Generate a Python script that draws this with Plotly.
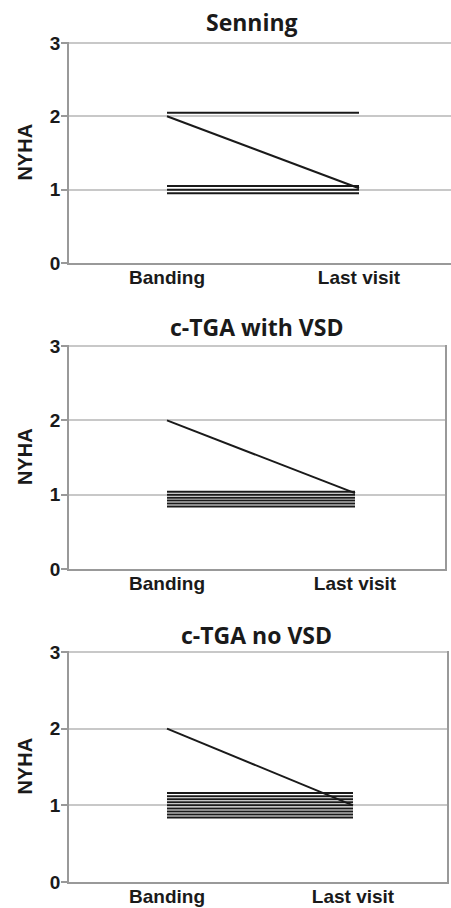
import plotly.graph_objects as go

# ---- data ----
categories = ["Banding", "Last visit"]
panel_titles = ["Senning", "c-TGA with VSD", "c-TGA no VSD"]

senning_banding = [2.05, 2.00, 1.05, 1.00, 0.95]
senning_last = [2.05, 1.02, 1.05, 1.00, 0.95]

vsd_banding = [2.00, 1.04, 1.00, 0.96, 0.92, 0.88, 0.84]
vsd_last = [1.02, 1.04, 1.00, 0.96, 0.92, 0.88, 0.84]

novsd_banding = [2.00, 1.16, 1.12, 1.08, 1.04, 1.00, 0.96, 0.92, 0.88, 0.84]
novsd_last = [1.00, 1.16, 1.12, 1.08, 1.04, 1.00, 0.96, 0.92, 0.88, 0.84]

y_ticks = [0, 1, 2, 3]

panels = [
    (senning_banding, senning_last),
    (vsd_banding, vsd_last),
    (novsd_banding, novsd_last),
]

# layout geometry (pixels in a 451x908 page)
W, H = 451, 908
left_px = 69
right_px = [451, 445, 447]
cat_px = [(167, 359), (167, 355), (167, 353)]
plot_top = [41.5, 344.5, 650.5]
plot_bot = [263, 569, 882]
title_y = [22, 327, 635]
mirror = [False, True, True]

fig = go.Figure()
FONT = "Liberation Sans, Arial, sans-serif"
tick_font = dict(family=FONT, size=19, color="#1a1a1a", weight="bold")

for i, (b, l) in enumerate(panels):
    ax = "" if i == 0 else str(i + 1)
    for yb, yl in zip(b, l):
        fig.add_trace(go.Scatter(
            x=[0, 1], y=[yb, yl], mode="lines",
            line=dict(color="#1a1a1a", width=2),
            xaxis="x" + ax, yaxis="y" + ax, showlegend=False, hoverinfo="skip",
        ))
    c0, c1 = cat_px[i]
    per = c1 - c0
    r0 = -(c0 - left_px) / per
    r1 = r0 + (right_px[i] - left_px) / per
    fig.layout["xaxis" + ax] = dict(
        domain=[left_px / W, right_px[i] / W],
        range=[r0, r1],
        anchor="y" + ax,
        tickvals=[0, 1], ticktext=categories,
        tickfont=tick_font,
        showgrid=False, zeroline=False,
        showline=True, linecolor="#999999", linewidth=1.5, ticks="",
        ticklabelstandoff=-4,
        automargin=False,
    )
    fig.layout["yaxis" + ax] = dict(
        domain=[1 - plot_bot[i] / H, 1 - plot_top[i] / H],
        range=[0, 3.02],
        anchor="x" + ax,
        tickvals=y_ticks,
        tickfont=tick_font,
        showgrid=True, gridcolor="#c8c8c8", gridwidth=1.5,
        zeroline=False,
        showline=True, linecolor="#999999", linewidth=1.5, mirror=mirror[i],
        ticks="outside", ticklen=6, tickcolor="#999999", tickwidth=1.5,
        ticklabelstandoff=-3,
        title=dict(text="NYHA", font=dict(family=FONT, size=20, color="#1a1a1a", weight="bold"), standoff=12),
        automargin=False,
    )
    fig.add_annotation(
        text="<b>" + panel_titles[i] + "</b>",
        x=252 / W if i == 0 else 256 / W, y=1 - title_y[i] / H,
        xref="paper", yref="paper", showarrow=False,
        xanchor="center", yanchor="middle",
        font=dict(family="Open Sans, sans-serif", size=23, color="#1a1a1a"),
    )

fig.update_layout(
    width=W, height=H,
    margin=dict(l=0, r=0, t=0, b=0),
    paper_bgcolor="white", plot_bgcolor="white",
    font=dict(family=FONT, color="#1a1a1a"),
)

fig.write_html(
    "out.html",
    config={"displayModeBar": False},
    post_script="document.body.style.margin='0px';document.body.style.overflow='hidden';",
)
